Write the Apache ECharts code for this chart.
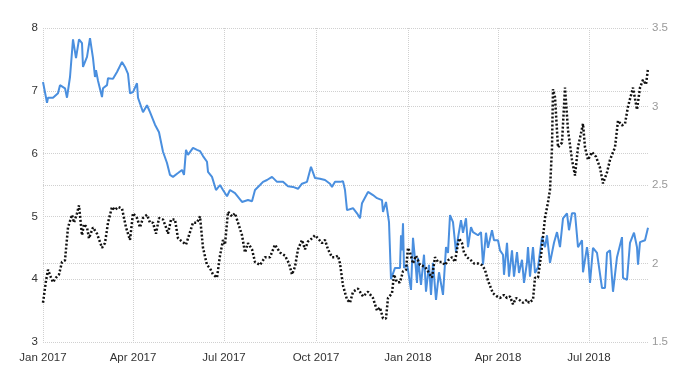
<!DOCTYPE html>
<html>
<head>
<meta charset="utf-8">
<script src="https://cdn.jsdelivr.net/npm/echarts@6/dist/echarts.min.js"></script>
<style>
  html, body { margin: 0; padding: 0; background: #fff; }
  #chart { width: 700px; height: 375px; }
</style>
</head>
<body>
<div id="chart"></div>
<script>
// blue line, left axis
const blueDates = [
  "2017-01-01","2017-01-05","2017-01-06","2017-01-11","2017-01-16","2017-01-18","2017-01-23","2017-01-25","2017-01-28","2017-01-31",
  "2017-02-03","2017-02-06","2017-02-09","2017-02-10","2017-02-14","2017-02-17","2017-02-20","2017-02-22","2017-02-23","2017-02-25","2017-02-27",
  "2017-03-01","2017-03-02","2017-03-06","2017-03-07","2017-03-12","2017-03-16","2017-03-21","2017-03-24","2017-03-27","2017-03-29",
  "2017-04-01","2017-04-05","2017-04-06","2017-04-11","2017-04-15","2017-04-18","2017-04-23","2017-04-27",
  "2017-05-01","2017-05-05","2017-05-08","2017-05-11","2017-05-16","2017-05-20","2017-05-22","2017-05-24","2017-05-26","2017-05-31",
  "2017-06-04","2017-06-07","2017-06-10","2017-06-14","2017-06-15","2017-06-19","2017-06-23","2017-06-27","2017-06-30",
  "2017-07-04","2017-07-07","2017-07-12","2017-07-19","2017-07-25","2017-07-29",
  "2017-08-01","2017-08-06","2017-08-09","2017-08-13","2017-08-18","2017-08-23","2017-08-29",
  "2017-09-03","2017-09-08","2017-09-13","2017-09-17","2017-09-22","2017-09-26","2017-09-30",
  "2017-10-05","2017-10-10","2017-10-15","2017-10-17","2017-10-20","2017-10-25","2017-10-28","2017-10-30",
  "2017-11-01","2017-11-07","2017-11-11","2017-11-14","2017-11-16","2017-11-22","2017-11-27",
  "2017-12-01","2017-12-06","2017-12-07","2017-12-10","2017-12-13","2017-12-15","2017-12-17","2017-12-19","2017-12-24","2017-12-25","2017-12-26","2017-12-27","2017-12-28","2017-12-31",
  "2018-01-01","2018-01-04","2018-01-06","2018-01-09","2018-01-10","2018-01-11","2018-01-14","2018-01-17","2018-01-19","2018-01-22","2018-01-24","2018-01-26","2018-01-29",
  "2018-02-01","2018-02-05","2018-02-08","2018-02-10","2018-02-12","2018-02-15","2018-02-18","2018-02-20","2018-02-23","2018-02-25","2018-02-28",
  "2018-03-02","2018-03-05","2018-03-07","2018-03-12","2018-03-15","2018-03-17","2018-03-20","2018-03-22","2018-03-26","2018-03-28",
  "2018-04-01","2018-04-03","2018-04-06","2018-04-07","2018-04-10","2018-04-12","2018-04-15","2018-04-17","2018-04-20","2018-04-22","2018-04-25","2018-04-27","2018-04-30",
  "2018-05-01","2018-05-03","2018-05-06","2018-05-08","2018-05-11","2018-05-15","2018-05-18","2018-05-20","2018-05-23","2018-05-27","2018-05-30",
  "2018-06-02","2018-06-05","2018-06-09","2018-06-11","2018-06-14","2018-06-17","2018-06-20","2018-06-24","2018-06-25","2018-06-29","2018-06-30",
  "2018-07-02","2018-07-05","2018-07-09","2018-07-11","2018-07-14","2018-07-17","2018-07-19","2018-07-22","2018-07-25","2018-07-27","2018-07-29",
  "2018-08-03","2018-08-04","2018-08-08","2018-08-11","2018-08-15","2018-08-18","2018-08-19","2018-08-21","2018-08-26","2018-08-29"
];
const blueValues = [
  7.14,6.81,6.89,6.89,6.96,7.09,7.04,6.89,7.22,7.82,
  7.52,7.82,7.76,7.38,7.54,7.84,7.52,7.22,7.33,7.16,7.14,
  6.90,7.04,7.09,7.20,7.19,7.30,7.46,7.38,7.27,6.96,
  6.98,7.12,6.89,6.66,6.77,6.66,6.46,6.34,
  6.03,5.85,5.66,5.63,5.69,5.74,5.66,6.06,5.98,6.09,
  6.06,6.04,5.96,5.87,5.71,5.63,5.42,5.50,5.42,
  5.32,5.42,5.37,5.23,5.26,5.24,
  5.42,5.50,5.55,5.58,5.63,5.55,5.55,
  5.48,5.47,5.44,5.52,5.55,5.79,5.61,
  5.60,5.58,5.52,5.47,5.55,5.55,5.56,5.42,
  5.10,5.13,5.05,4.97,5.21,5.39,5.34,
  5.29,5.26,5.07,5.23,4.91,4.00,4.02,4.18,4.18,4.70,4.46,4.89,4.18,4.23,
  4.15,3.83,4.66,4.15,3.94,4.34,3.91,4.39,3.80,4.23,3.75,4.26,3.67,
  4.11,3.75,4.51,4.42,5.02,4.91,4.43,4.66,4.94,4.74,4.97,
  4.51,4.83,4.75,4.70,4.75,4.23,4.74,4.50,4.78,4.62,
  4.62,4.46,4.39,4.07,4.58,4.04,4.46,4.04,4.43,4.10,4.31,3.94,4.27,
  4.51,4.04,4.51,4.10,4.19,4.67,4.51,4.70,4.26,4.58,4.75,
  4.51,4.97,5.05,4.78,5.05,5.05,4.51,4.62,4.11,4.51,4.39,
  3.94,4.50,4.42,4.39,3.86,3.86,4.42,4.46,3.80,3.83,4.35,
  4.67,4.02,3.99,4.58,4.74,4.51,4.23,4.59,4.62,4.82
];

// black dotted line, right axis
const blackDates = [
  "2017-01-01","2017-01-04","2017-01-06","2017-01-09","2017-01-11","2017-01-14","2017-01-17","2017-01-20","2017-01-23","2017-01-26","2017-01-30",
  "2017-02-01","2017-02-04","2017-02-06","2017-02-09","2017-02-11","2017-02-14","2017-02-16","2017-02-20","2017-02-24",
  "2017-03-01","2017-03-04","2017-03-07","2017-03-11","2017-03-14","2017-03-17","2017-03-21","2017-03-25","2017-03-29",
  "2017-04-01","2017-04-05","2017-04-08","2017-04-11","2017-04-15","2017-04-18","2017-04-21","2017-04-24","2017-04-27",
  "2017-05-01","2017-05-04","2017-05-06","2017-05-09","2017-05-13","2017-05-16","2017-05-20","2017-05-24","2017-05-28","2017-05-31",
  "2017-06-04","2017-06-07","2017-06-10","2017-06-14","2017-06-17","2017-06-20","2017-06-24","2017-06-25","2017-06-27","2017-06-30",
  "2017-07-02","2017-07-05","2017-07-09","2017-07-12","2017-07-15","2017-07-19","2017-07-22","2017-07-25","2017-07-29",
  "2017-08-01","2017-08-06","2017-08-11","2017-08-16","2017-08-21","2017-08-26","2017-08-31",
  "2017-09-04","2017-09-07","2017-09-10","2017-09-13","2017-09-17","2017-09-20","2017-09-23","2017-09-27","2017-09-30",
  "2017-10-03","2017-10-07","2017-10-10","2017-10-13","2017-10-17","2017-10-20","2017-10-23","2017-10-25","2017-10-28",
  "2017-11-01","2017-11-04","2017-11-07","2017-11-12","2017-11-17","2017-11-22","2017-11-27",
  "2017-12-01","2017-12-04","2017-12-07","2017-12-10","2017-12-12","2017-12-16","2017-12-18","2017-12-21","2017-12-24","2017-12-27","2017-12-30",
  "2018-01-01","2018-01-03","2018-01-06","2018-01-09","2018-01-13","2018-01-18","2018-01-21","2018-01-25","2018-01-28","2018-01-31",
  "2018-02-04","2018-02-07","2018-02-10","2018-02-14","2018-02-17","2018-02-19","2018-02-21","2018-02-24","2018-02-26",
  "2018-03-01","2018-03-05","2018-03-08","2018-03-12","2018-03-16","2018-03-19","2018-03-22","2018-03-27","2018-03-31",
  "2018-04-03","2018-04-07","2018-04-10","2018-04-13","2018-04-16","2018-04-19","2018-04-22","2018-04-26","2018-04-30",
  "2018-05-02","2018-05-06","2018-05-08","2018-05-11","2018-05-14","2018-05-16","2018-05-18","2018-05-21","2018-05-23","2018-05-25","2018-05-26","2018-05-28","2018-05-31",
  "2018-06-04","2018-06-07","2018-06-10","2018-06-14","2018-06-17","2018-06-20","2018-06-25","2018-06-27","2018-06-30",
  "2018-07-04","2018-07-08","2018-07-12","2018-07-15","2018-07-19","2018-07-22","2018-07-27","2018-07-30",
  "2018-08-03","2018-08-06","2018-08-09","2018-08-14","2018-08-18","2018-08-21","2018-08-24","2018-08-27","2018-08-29"
];
const blackValues = [
  1.75,1.89,1.96,1.91,1.88,1.91,1.93,2.01,2.02,2.23,2.31,
  2.26,2.32,2.37,2.18,2.25,2.23,2.16,2.23,2.19,
  2.10,2.13,2.26,2.36,2.34,2.36,2.35,2.23,2.15,
  2.32,2.29,2.23,2.29,2.31,2.26,2.26,2.19,2.29,
  2.28,2.23,2.19,2.28,2.28,2.16,2.14,2.12,2.20,2.26,
  2.26,2.30,2.10,1.99,1.97,1.93,1.91,1.91,2.05,2.15,
  2.12,2.33,2.30,2.32,2.26,2.18,2.07,2.13,2.09,
  2.01,1.99,2.04,2.04,2.12,2.07,2.05,
  2.00,1.93,1.98,2.09,2.15,2.09,2.14,2.16,2.18,
  2.16,2.13,2.15,2.09,2.04,2.04,2.05,2.00,1.86,
  1.77,1.75,1.82,1.84,1.79,1.82,1.78,
  1.70,1.72,1.65,1.65,1.78,1.81,1.93,1.88,1.88,1.95,1.96,
  2.10,2.07,2.00,2.05,1.99,1.98,1.95,1.91,2.04,2.01,
  2.01,1.99,2.02,2.04,2.01,2.09,2.16,2.13,2.07,
  2.04,2.02,2.00,2.00,1.99,1.96,1.89,1.81,1.79,
  1.78,1.80,1.78,1.79,1.74,1.78,1.77,1.75,1.77,
  1.75,1.77,1.91,1.91,2.05,2.17,2.29,2.39,2.47,2.74,3.11,3.06,2.74,
  2.77,3.12,2.85,2.66,2.56,2.74,2.89,2.74,2.66,
  2.71,2.68,2.61,2.51,2.58,2.66,2.74,2.91,
  2.88,2.89,3.00,3.12,2.98,3.12,3.17,3.14,3.24
];

const quarterTicks = ["2017-01-01","2017-04-01","2017-07-01","2017-10-01","2018-01-01","2018-04-01","2018-07-01"];
const monthNames = ["Jan","Feb","Mar","Apr","May","Jun","Jul","Aug","Sep","Oct","Nov","Dec"];

const toTime = (s) => {
  const [y, m, d] = s.split("-").map(Number);
  return new Date(y, m - 1, d).getTime();
};
const tickTimes = quarterTicks.map(toTime);
const blueData = blueDates.map((d, i) => [toTime(d), blueValues[i]]);
const blackData = blackDates.map((d, i) => [toTime(d), blackValues[i]]);

const gridLine = { show: true, lineStyle: { color: "#d0d0d0", type: [1, 1], width: 1 } };
const font = "Liberation Sans";

const chart = echarts.init(document.getElementById("chart"));
chart.setOption({
  animation: false,
  backgroundColor: "#fff",
  grid: { left: 43, right: 52, top: 28, bottom: 33 },
  xAxis: {
    // plain value axis over timestamps so the quarter ticks can be set exactly
    type: "value",
    min: toTime("2017-01-01"),
    max: toTime("2018-08-29"),
    axisLine: { show: false },
    axisTick: { show: false, customValues: tickTimes },
    splitLine: gridLine,
    axisLabel: {
      customValues: tickTimes,
      color: "#333",
      fontFamily: font,
      fontSize: 11.5,
      margin: 10,
      formatter: (v) => {
        const d = new Date(v);
        return `${monthNames[d.getMonth()]} ${d.getFullYear()}`;
      }
    }
  },
  yAxis: [
    {
      type: "value",
      min: 3,
      max: 8,
      interval: 1,
      axisLine: { show: false },
      axisTick: { show: false },
      splitLine: gridLine,
      axisLabel: { color: "#333", fontFamily: font, fontSize: 11.5, margin: 5 }
    },
    {
      type: "value",
      min: 1.5,
      max: 3.5,
      interval: 0.5,
      position: "right",
      axisLine: { show: false },
      axisTick: { show: false },
      splitLine: gridLine,
      axisLabel: { color: "#999", fontFamily: font, fontSize: 11.5, margin: 4 }
    }
  ],
  series: [
    {
      name: "blue",
      type: "line",
      yAxisIndex: 0,
      data: blueData,
      showSymbol: false,
      lineStyle: { color: "#4a8fdf", width: 2 },
      z: 2
    },
    {
      name: "black",
      type: "line",
      yAxisIndex: 1,
      data: blackData,
      showSymbol: false,
      lineStyle: { color: "#111", width: 2.5, type: [2, 2] },
      z: 3
    }
  ]
});
</script>
</body>
</html>
